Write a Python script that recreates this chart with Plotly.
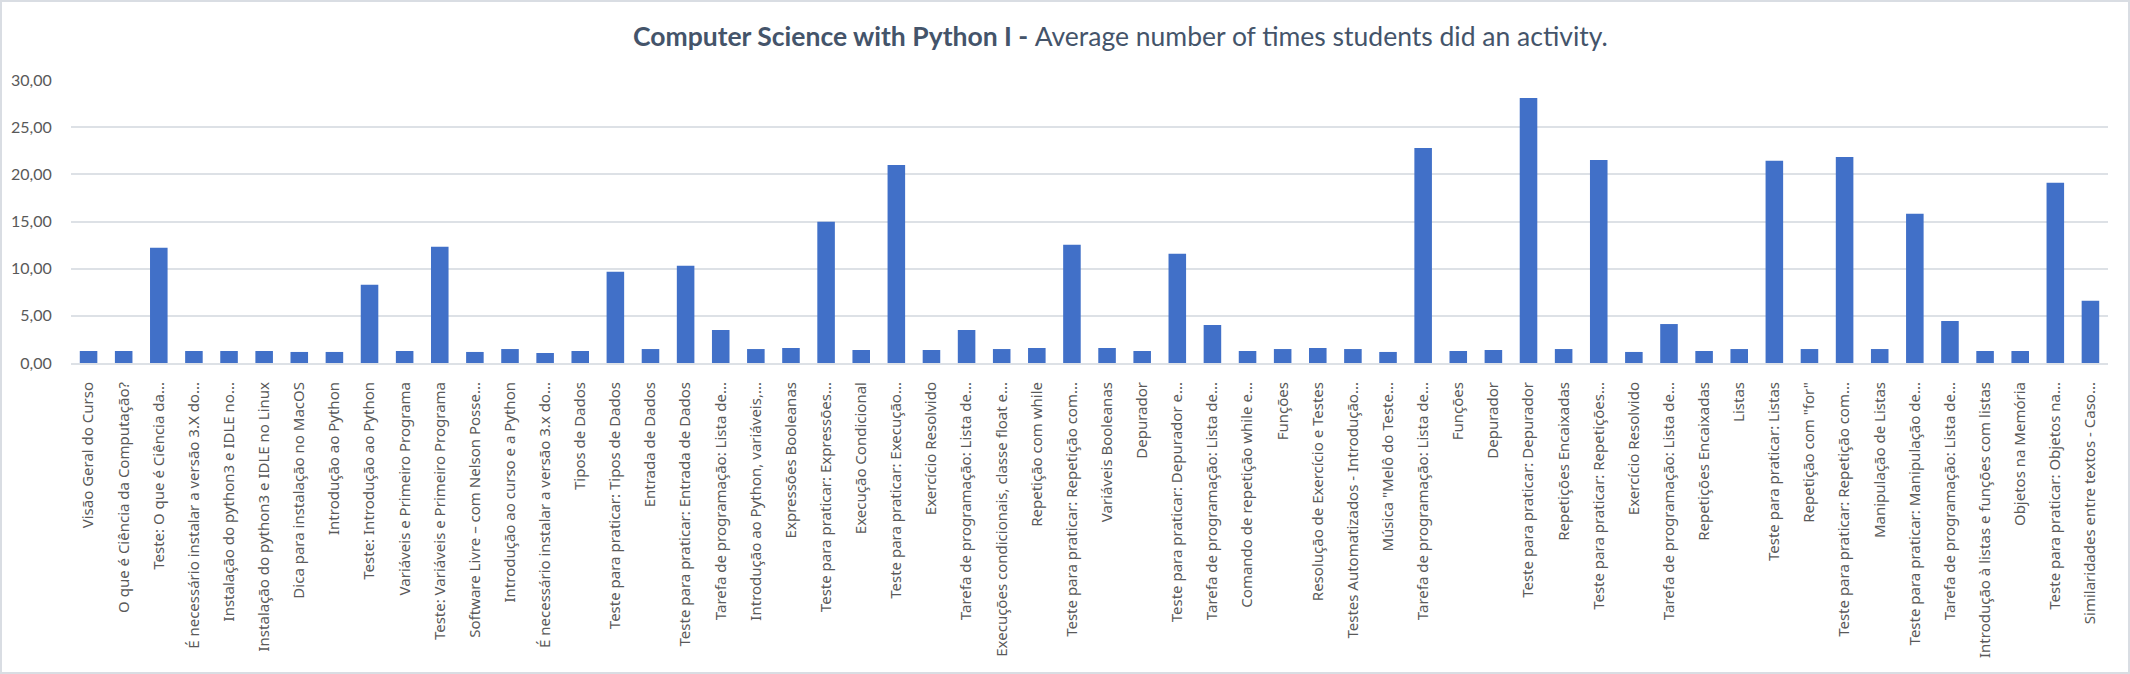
import plotly.graph_objects as go

# activity names (as shown, truncated the way the spreadsheet shows them)
activities = [
    "Visão Geral do Curso",
    "O que é Ciência da Computação?",
    "Teste: O que é Ciência da...",
    "É necessário instalar a versão 3.X do...",
    "Instalação do python3 e IDLE no...",
    "Instalação do python3 e IDLE no Linux",
    "Dica para instalação no MacOS",
    "Introdução ao Python",
    "Teste: Introdução ao Python",
    "Variáveis e Primeiro Programa",
    "Teste: Variáveis e Primeiro Programa",
    "Software Livre – com Nelson Posse...",
    "Introdução ao curso e a Python",
    "É necessário instalar a versão 3.x do...",
    "Tipos de Dados",
    "Teste para praticar: Tipos de Dados",
    "Entrada de Dados",
    "Teste para praticar: Entrada de Dados",
    "Tarefa de programação: Lista de...",
    "Introdução ao Python, variáveis,...",
    "Expressões Booleanas",
    "Teste para praticar: Expressões...",
    "Execução Condicional",
    "Teste para praticar: Execução...",
    "Exercício Resolvido",
    "Tarefa de programação: Lista de...",
    "Execuções condicionais, classe float e...",
    "Repetição com while",
    "Teste para praticar: Repetição com...",
    "Variáveis Booleanas",
    "Depurador",
    "Teste para praticar: Depurador e...",
    "Tarefa de programação: Lista de...",
    "Comando de repetição while e...",
    "Funções",
    "Resolução de Exercício e Testes",
    "Testes Automatizados - Introdução...",
    "Música \"Melô do Teste...",
    "Tarefa de programação: Lista de...",
    "Funções",
    "Depurador",
    "Teste para praticar: Depurador",
    "Repetições Encaixadas",
    "Teste para praticar: Repetições...",
    "Exercício Resolvido",
    "Tarefa de programação: Lista de...",
    "Repetições Encaixadas",
    "Listas",
    "Teste para praticar: Listas",
    "Repetição com \"for\"",
    "Teste para praticar: Repetição com...",
    "Manipulação de Listas",
    "Teste para praticar: Manipulação de...",
    "Tarefa de programação: Lista de...",
    "Introdução à listas e funções com listas",
    "Objetos na Memória",
    "Teste para praticar: Objetos na...",
    "Similaridades entre textos - Caso...",
]

avg_times = [
    1.27, 1.27, 12.21, 1.27, 1.27, 1.27, 1.17, 1.17, 8.30, 1.27,
    12.32, 1.17, 1.48, 1.06, 1.27, 9.67, 1.48, 10.31, 3.50, 1.48,
    1.59, 14.97, 1.38, 21.00, 1.38, 3.50, 1.48, 1.59, 12.53, 1.59,
    1.27, 11.58, 4.03, 1.27, 1.48, 1.59, 1.48, 1.17, 22.80, 1.27,
    1.38, 28.10, 1.48, 21.53, 1.17, 4.13, 1.27, 1.48, 21.43, 1.48,
    21.85, 1.48, 15.81, 4.45, 1.27, 1.27, 19.10, 6.60,
]

# positional index so repeated names stay separate bars
pos = list(range(len(activities)))

W, H = 2130, 674
ML, MR, MT, MB = 71, 22, 80, 311
grid = "#DDE1E6"

fig = go.Figure()
fig.add_trace(go.Bar(
    x=pos,
    y=avg_times,
    marker=dict(color="#4170C8", line=dict(width=0)),
    hovertext=activities,
))

pw = W - ML - MR
ph = H - MT - MB

fig.update_layout(
    width=W,
    height=H,
    margin=dict(l=ML, r=MR, t=MT, b=MB, autoexpand=False),
    paper_bgcolor="white",
    plot_bgcolor="white",
    separators=",.",
    bargap=0.5,
    showlegend=False,
    title=dict(
        text="<b>Computer Science with Python I - </b>Average number of times students did an activity.",
        font=dict(family="Lato", size=26.5, color="#44546A"),
        x=0.526,
        xanchor="center",
        xref="container",
        y=1 - 37 / H,
        yanchor="middle",
        yref="container",
    ),
    xaxis=dict(
        automargin=False,
        tickmode="array",
        tickvals=pos,
        ticktext=activities,
        tickangle=-90,
        tickfont=dict(family="Noto Sans", size=15, color="#595959"),
        ticks="outside",
        ticklen=11,
        tickcolor="rgba(0,0,0,0)",
        showgrid=False,
        showline=True,
        linecolor=grid,
        linewidth=2,
        range=[-0.5, len(pos) - 0.5],
    ),
    yaxis=dict(
        automargin=False,
        range=[0, 30],
        dtick=5,
        tickformat=".2f",
        tickfont=dict(family="Lato", size=16, color="#595959"),
        ticks="outside",
        ticklen=15,
        tickcolor="rgba(0,0,0,0)",
        showgrid=True,
        gridcolor=grid,
        gridwidth=2,
        zeroline=False,
        showline=False,
    ),
)

# thin light border round the whole chart, like the spreadsheet frame
fig.add_shape(
    type="rect",
    xref="paper", yref="paper",
    x0=(-ML + 1) / pw, x1=1 + (MR - 1) / pw,
    y0=(-MB + 1) / ph, y1=1 + (MT - 1) / ph,
    line=dict(color="#D9DDE3", width=2),
    fillcolor="rgba(0,0,0,0)",
    layer="below",
)

# drop the default body margin so the figure sits flush in the window
fig.write_html(
    "out.html",
    config={"displayModeBar": False},
    post_script="document.body.style.margin='0';document.body.style.overflow='hidden';",
)
